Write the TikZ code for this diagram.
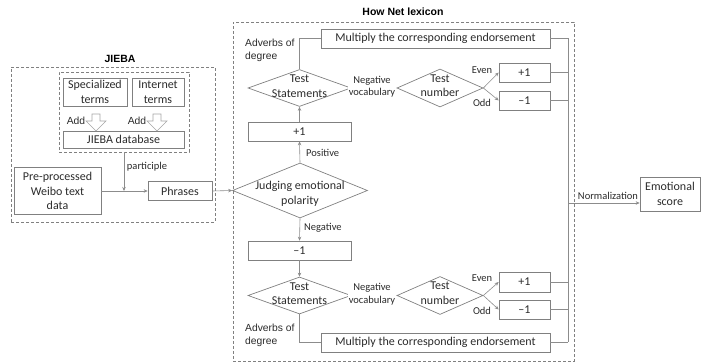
\documentclass[tikz,border=0pt]{standalone}
\usepackage{fontspec}
\setmainfont{Carlito}
\newfontfamily\arialf{Liberation Sans}
\usetikzlibrary{shapes.geometric,arrows.meta}
\definecolor{lnc}{HTML}{8C8C8C}
\definecolor{bxc}{HTML}{808080}
\definecolor{txc}{HTML}{2B2B2B}
\begin{document}
\begin{tikzpicture}[x=1pt,y=-1pt,
  font=\fontsize{12}{14.5}\selectfont, text=txc,
  box/.style={draw=bxc, line width=0.7pt, rectangle, inner sep=0pt, align=center},
  dia/.style={draw=bxc, line width=0.7pt, diamond, inner sep=0pt},
  grp/.style={draw=bxc, line width=0.7pt, dash pattern=on 3pt off 2pt, rectangle, inner sep=0pt},
  arr/.style={draw=lnc, line width=0.6pt, -{Stealth[length=4pt,width=3.5pt]}},
  conn/.style={draw=lnc, line width=0.6pt},
  lab/.style={font=\fontsize{10.5}{12.5}\selectfont, inner sep=1pt, align=center},
  alab/.style={font=\arialf\fontsize{10.3}{13}\selectfont, inner sep=0pt, align=left},
  ttl/.style={font=\arialf\bfseries\fontsize{10.5}{12}\selectfont, text=black},
  hollow/.style={draw=black!35, line width=0.6pt, fill=white}
]
\useasboundingbox (0,0) rectangle (702,363);

% ---------------- JIEBA ----------------
\node[ttl] (tj) at (120,59) {JIEBA};
\node[grp, minimum width=204, minimum height=155] (jout) at (113,144.5) {};
\node[grp, minimum width=130, minimum height=80] (jin) at (124,112) {};
\node[box, minimum width=64, minimum height=28] (spec) at (95,92) {Specialized\\terms};
\node[box, minimum width=52, minimum height=28] (inet) at (158,92) {Internet\\terms};
\node[box, minimum width=121, minimum height=17] (db) at (123.5,139.5) {JIEBA database};
\draw[hollow] (92,114) -- (100,114) -- (100,121) -- (106,121) -- (96,131) -- (86,121) -- (92,121) -- cycle;
\draw[hollow] (153,114) -- (161,114) -- (161,121) -- (167,121) -- (157,131) -- (147,121) -- (153,121) -- cycle;
\node[alab] (add1) at (76,121) {Add};
\node[alab] (add2) at (137,121) {Add};
\node[box, minimum width=87, minimum height=47] (pre) at (57.5,191) {Pre-processed\\Weibo text\\data};
\node[box, minimum width=64, minimum height=19] (phr) at (180,191) {Phrases};
\draw[arr] (pre.east) -- (phr.west);
\draw[arr] (jin.south) -- (jin.south |- phr.west);
\node[lab] (part) at (147,167) {participle};

% ---------------- HowNet ----------------
\node[ttl] (th) at (403,12) {How Net lexicon};
\node[grp, minimum width=341, minimum height=339] (hn) at (403.5,191.5) {};

\node[dia, minimum width=135, minimum height=55] (judge) at (300,190.5) {};
\node (judgetxt) at (300,194) [align=center, inner sep=0pt] {Judging emotional\\polarity};
\draw[arr] (phr.east) -- (judge.west);

% upper branch
\node[box, minimum width=103, minimum height=19] (p1) at (299.5,131.5) {+1};
\node[dia, minimum width=103, minimum height=37] (s1) at (299.5,88) {};
\node[align=center, inner sep=0pt] (s1t) at (299.5,86) {Test\\Statements};
\node[dia, minimum width=86, minimum height=38] (t1) at (440,88) {};
\node[align=center, inner sep=0pt] (t1t) at (440,85.5) {Test\\number};
\node[box, minimum width=51, minimum height=19] (e1) at (524.5,72.5) {+1};
\node[box, minimum width=51, minimum height=19] (o1) at (524.5,100.5) {--1};
\node[box, minimum width=229, minimum height=19] (m1) at (435.5,38.5) {Multiply the corresponding endorsement};

\draw[arr] (judge.north) -- (p1.south);
\node[lab, anchor=west] (pos) at (305,153) {Positive};
\draw[arr] (p1.north) -- (s1.south);
\draw[arr] (s1.east) -- (t1.west);
\node[lab, fill=white, inner sep=0.5pt] (nv1) at (372,86.5) {Negative\\vocabulary};
\draw[arr] (t1.east) -- (e1.west);
\draw[arr] (t1.east) -- (o1.west);
\node[lab] (ev1) at (482,70) {Even};
\node[lab] (od1) at (482,103) {Odd};
\draw[conn] (s1.north) |- (m1.west);
\node[alab, anchor=west] (adv1) at (245,50.5) {Adverbs of\\degree};

% lower branch
\node[box, minimum width=103, minimum height=19] (n1) at (299.5,250.5) {--1};
\node[dia, minimum width=103, minimum height=37] (s2) at (299.5,295.5) {};
\node[align=center, inner sep=0pt] (s2t) at (299.5,293.5) {Test\\Statements};
\node[dia, minimum width=86, minimum height=38] (t2) at (440,295.5) {};
\node[align=center, inner sep=0pt] (t2t) at (440,293) {Test\\number};
\node[box, minimum width=51, minimum height=20] (e2) at (524.5,282) {+1};
\node[box, minimum width=51, minimum height=19] (o2) at (524.5,309.5) {--1};
\node[box, minimum width=229, minimum height=19] (m2) at (435.5,342.5) {Multiply the corresponding endorsement};

\draw[arr] (judge.south) -- (n1.north);
\node[lab, anchor=west] (neg) at (303,228) {Negative};
\draw[arr] (n1.south) -- (s2.north);
\draw[arr] (s2.east) -- (t2.west);
\node[lab, fill=white, inner sep=0.5pt] (nv2) at (372,294) {Negative\\vocabulary};
\draw[arr] (t2.east) -- (e2.west);
\draw[arr] (t2.east) -- (o2.west);
\node[lab] (ev2) at (482,278) {Even};
\node[lab] (od2) at (482,311) {Odd};
\draw[conn] (s2.south) |- (m2.west);
\node[alab, anchor=west] (adv2) at (245,335.5) {Adverbs of\\degree};

% bus and output
\coordinate (bus) at (568,0);
\coordinate (nrm) at (568,203);
\draw[conn] (m1.east) -- (m1.east -| bus);
\draw[conn] (e1.east) -- (e1.east -| bus);
\draw[conn] (o1.east) -- (o1.east -| bus);
\draw[conn] (e2.east) -- (e2.east -| bus);
\draw[conn] (o2.east) -- (o2.east -| bus);
\draw[conn] (m2.east) -- (m2.east -| bus);
\draw[conn] (m1.east -| bus) -- (m2.east -| bus);
\node[box, minimum width=60, minimum height=34] (emo) at (670,194) {Emotional\\score};
\draw[arr] (nrm) -- (emo.west |- nrm);
\node[lab] (norm) at (608,195.5) {Normalization};
\end{tikzpicture}
\end{document}
